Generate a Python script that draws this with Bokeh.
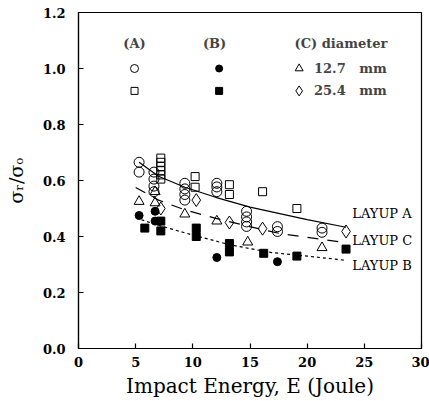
from bokeh.plotting import figure
from bokeh.models import Range1d, FixedTicker, NumeralTickFormatter, Label
from bokeh.embed import file_html
from bokeh.resources import INLINE

# ---- data ----
a_circ_E = [5.3, 5.3, 6.6, 6.6, 6.6, 6.6, 9.3, 9.3, 9.3, 9.3, 12.1, 12.1, 12.1,
            14.7, 14.7, 14.7, 14.7, 17.4, 17.4, 21.3, 21.3]
a_circ_v = [0.665, 0.63, 0.63, 0.605, 0.58, 0.56, 0.59, 0.57, 0.55, 0.53, 0.59, 0.577, 0.56,
            0.49, 0.47, 0.452, 0.436, 0.435, 0.418, 0.43, 0.415]

a_sq_E = [7.2, 7.2, 7.2, 7.2, 7.2, 7.2, 10.2, 10.2, 13.2, 13.2, 16.1, 19.1]
a_sq_v = [0.68, 0.665, 0.65, 0.635, 0.62, 0.605, 0.614, 0.576, 0.585, 0.55, 0.56, 0.50]

b_circ_E = [5.3, 6.7, 6.7, 12.1, 17.4]
b_circ_v = [0.475, 0.49, 0.455, 0.325, 0.31]

b_sq_E = [5.8, 7.2, 7.2, 10.3, 10.3, 13.2, 13.2, 16.2, 19.1, 23.4]
b_sq_v = [0.43, 0.455, 0.42, 0.43, 0.40, 0.375, 0.345, 0.34, 0.33, 0.355]

c_tri_E = [5.3, 6.7, 6.7, 9.3, 12.1, 14.8, 21.3]
c_tri_v = [0.525, 0.56, 0.52, 0.48, 0.455, 0.38, 0.36]

c_dia_E = [7.2, 10.3, 13.2, 16.1, 23.4]
c_dia_v = [0.50, 0.53, 0.45, 0.428, 0.418]

fitA_E = [5.3, 7.0, 9.3, 12.0, 15.0, 17.0, 20.0, 23.4]
fitA_v = [0.665, 0.615, 0.576, 0.54, 0.505, 0.487, 0.46, 0.433]
fitC_E = [5.0, 7.0, 9.3, 12.0, 15.0, 17.7, 20.0, 23.4]
fitC_v = [0.575, 0.53, 0.495, 0.465, 0.435, 0.41, 0.397, 0.378]
fitB_E = [5.5, 7.0, 10.0, 13.3, 16.8, 20.0, 23.4]
fitB_v = [0.46, 0.44, 0.405, 0.37, 0.343, 0.33, 0.315]

x_ticks = [0, 5, 10, 15, 20, 25, 30]
y_ticks = [0.0, 0.2, 0.4, 0.6, 0.8, 1.0, 1.2]

SERIF = "DejaVu Serif"

p = figure(width=429, height=401, output_backend="svg", toolbar_location=None,
           x_range=Range1d(0, 30), y_range=Range1d(0, 1.2),
           min_border_left=78, min_border_right=8, min_border_top=12, min_border_bottom=53)
p.background_fill_color = "white"
p.border_fill_color = "white"
p.outline_line_color = "black"
p.outline_line_width = 1.2
p.grid.visible = False

for ax in (p.xaxis[0], p.yaxis[0]):
    ax.major_tick_in = 5
    ax.major_tick_out = 0
    ax.minor_tick_line_color = None
    ax.axis_line_color = "black"
    ax.axis_line_width = 1.2
    ax.major_tick_line_width = 1.2
    ax.major_label_text_font = SERIF
    ax.major_label_text_font_size = "13px"
    ax.major_label_text_font_style = "bold"
    ax.major_label_text_color = "black"
    ax.axis_label_text_font = SERIF
    ax.axis_label_text_font_style = "normal"
    ax.axis_label_text_font_size = "20px"
    ax.axis_label_text_color = "black"

p.xaxis.ticker = FixedTicker(ticks=x_ticks)
p.yaxis.ticker = FixedTicker(ticks=y_ticks)
p.xaxis.formatter = NumeralTickFormatter(format="0")
p.yaxis.formatter = NumeralTickFormatter(format="0.0")
p.xaxis.axis_label = "Impact Energy, E (Joule)"
p.yaxis.axis_label = "σᵣ/σₒ"
p.yaxis.axis_label_text_font_size = "19px"
p.xaxis.major_label_standoff = 8
p.xaxis.axis_label_standoff = 4
p.yaxis.major_label_standoff = 13
p.yaxis.axis_label_standoff = 13

# fitted curves
p.line(fitA_E, fitA_v, line_color="black", line_width=1.2)
p.line(fitC_E, fitC_v, line_color="black", line_width=1.2, line_dash="11 9")
p.line(fitB_E, fitB_v, line_color="black", line_width=1.2, line_dash="3 3")

# data
p.scatter(a_circ_E, a_circ_v, marker="circle", size=10, fill_alpha=0, line_color="black", line_width=1)
p.scatter(a_sq_E, a_sq_v, marker="square", size=8, fill_alpha=0, line_color="black", line_width=1)
p.scatter(b_circ_E, b_circ_v, marker="circle", size=8, fill_color="black", line_color="black")
p.scatter(b_sq_E, b_sq_v, marker="square", size=8, fill_color="black", line_color="black")
p.scatter(c_tri_E, c_tri_v, marker="triangle", size=10, fill_alpha=0, line_color="black", line_width=1)
p.scatter(c_dia_E, c_dia_v, marker="diamond", size=13, fill_alpha=0, line_color="black", line_width=1)

# curve labels
for txt, yv in (("LAYUP A", 0.482), ("LAYUP C", 0.386), ("LAYUP B", 0.296)):
    p.add_layout(Label(x=23.95, y=yv, text=txt, text_font=SERIF, text_font_size="13px",
                       text_baseline="middle", text_align="left", text_color="black"))

# legend block
NB = "\u00a0"
legend_rows = [1.09, 1.0, 0.92]
p.add_layout(Label(x=4.9, y=legend_rows[0], text="(A)", text_font=SERIF, text_font_size="13px",
                   text_font_style="bold", text_align="center", text_baseline="middle"))
p.add_layout(Label(x=11.9, y=legend_rows[0], text="(B)", text_font=SERIF, text_font_size="13px",
                   text_font_style="bold", text_align="center", text_baseline="middle"))
p.add_layout(Label(x=18.9, y=legend_rows[0], text="(C)" + NB + "diameter", text_font=SERIF,
                   text_font_size="13px", text_font_style="bold", text_align="left", text_baseline="middle"))
p.add_layout(Label(x=20.6, y=legend_rows[1], text="12.7" + NB * 3 + "mm", text_font=SERIF,
                   text_font_size="13px", text_font_style="bold", text_align="left", text_baseline="middle"))
p.add_layout(Label(x=20.6, y=legend_rows[2], text="25.4" + NB * 3 + "mm", text_font=SERIF,
                   text_font_size="13px", text_font_style="bold", text_align="left", text_baseline="middle"))
p.scatter([4.9], [legend_rows[1]], marker="circle", size=8, fill_alpha=0, line_color="black")
p.scatter([4.9], [legend_rows[2]], marker="square", size=7, fill_alpha=0, line_color="black")
p.scatter([12.3], [legend_rows[1]], marker="circle", size=7, fill_color="black", line_color="black")
p.scatter([12.3], [legend_rows[2]], marker="square", size=7, fill_color="black", line_color="black")
p.scatter([19.3], [legend_rows[1]], marker="triangle", size=8, fill_alpha=0, line_color="black")
p.scatter([19.3], [legend_rows[2]], marker="diamond", size=10, fill_alpha=0, line_color="black")

open("out.html", "w").write(file_html(p, INLINE))
